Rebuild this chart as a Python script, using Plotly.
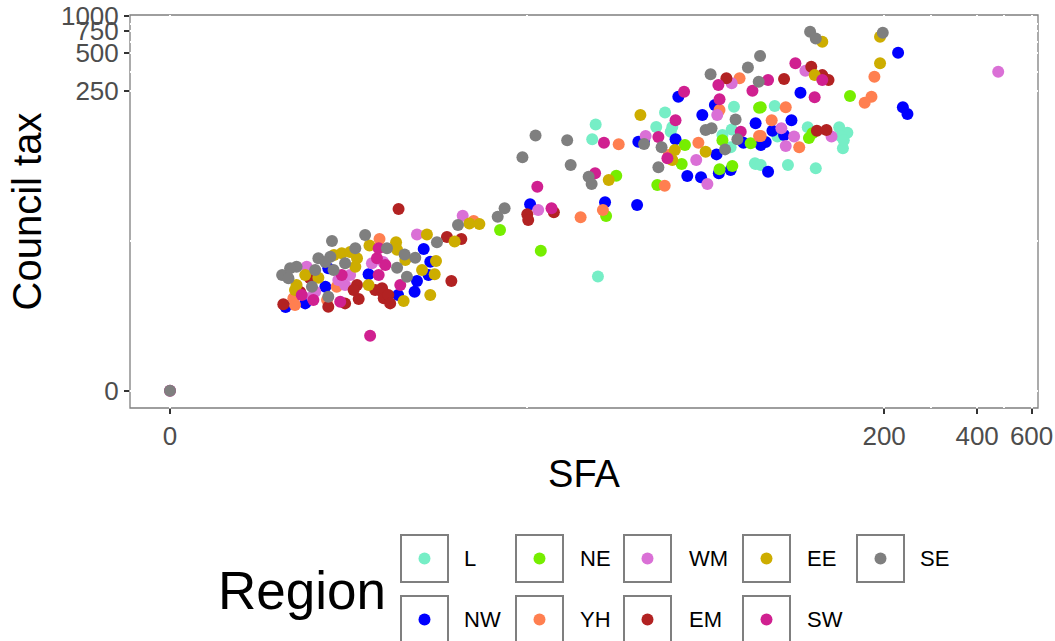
import numpy as np
import plotly.graph_objects as go

# ---- data: SFA and council tax (GBP m) by authority, grouped by region ----
sfa_L = [22.6, 22.0, 23.0, 64.9, 38.5, 40.7, 36.0, 63.8, 59.5, 40.2, 63.3, 76.0, 88.2, 113, 90.0,
         143, 152, 145, 147, 76.4, 79.4, 97.4, 120, 148]
ctax_L = [134, 102, 7.2, 186, 167, 128, 128, 122, 110, 117, 87.6, 65, 189, 127, 107,
          127, 115, 107, 86, 64.1, 62.9, 62.9, 59.2, 100]

sfa_NW = [2.24, 3.37, 2.17, 1.73, 1.36, 5.58, 5.91, 5.82, 5.26, 5.15, 4.44, 13.5, 24.3, 31.1, 31.4,
          42.6, 56.2, 76.4, 51.1, 32.8, 41.7, 69.7, 56.9, 57.9, 63.3, 45.6, 50.6, 107, 100, 86.7,
          94.6, 79.4, 82.4, 83.9, 222, 230, 238]
ctax_NW = [8.54, 7.54, 5.79, 4.00, 3.67, 12.6, 9.77, 7.43, 6.55, 5.19, 4.83, 30.0, 31.2, 29.6, 97.2,
           224, 192, 137, 160, 100, 102, 95.4, 76.8, 53.9, 57.3, 51.2, 50.0, 241, 145, 119,
           110, 91.4, 96.6, 55.5, 505, 184, 163]

sfa_NE = [26.5, 24.5, 10.6, 14.7, 78.4, 44.8, 59.5, 73.6, 43.7, 58.2, 64.1, 36.3, 155, 79.4, 114, 117]
ctax_NE = [51.5, 24.0, 18.3, 12.2, 183, 91.4, 100, 94.3, 64.1, 58.1, 61.8, 43.2, 227, 184, 104, 114]

sfa_YH = [3.74, 2.45, 1.50, 2.21, 1.53, 8.54, 27.0, 23.9, 20.1, 67.7, 58.2, 78.4, 49.6, 39.6, 38.4,
          95.8, 86.2, 79.4, 106, 186, 182, 173]
ctax_YH = [15.4, 5.79, 4.49, 4.32, 3.85, 21.8, 92.6, 26.9, 23.4, 315, 175, 108, 95.4, 75.8, 42.7,
           184, 145, 108, 87.6, 324, 224, 200]

sfa_WM = [3.48, 1.76, 2.81, 2.49, 2.67, 1.94, 1.87, 7.79, 5.26, 3.87, 14.4, 63.8, 57.2, 33.2, 48.8,
          53.1, 111, 92.7, 102, 135, 95.8, 468]
ctax_WM = [9.45, 8.82, 7.43, 6.69, 6.01, 5.19, 4.65, 24.1, 16.8, 9.71, 26.9, 287, 160, 108, 69.1,
           44.0, 362, 125, 107, 107, 89.7, 355]

sfa_EM = [1.83, 3.01, 3.59, 3.83, 2.91, 3.89, 2.67, 3.06, 2.24, 1.32, 1.63, 4.46, 6.82, 7.70, 7.08,
          3.83, 4.06, 4.13, 16.3, 13.2, 13.3, 61.3, 116, 126, 132, 94.6, 121, 130]
ctax_EM = [6.93, 6.01, 5.39, 5.19, 5.39, 4.49, 4.00, 4.42, 3.70, 3.91, 5.16, 27.4, 16.0, 15.4, 6.55,
           5.60, 4.83, 4.00, 25.8, 24.8, 22.2, 315, 390, 334, 305, 311, 119, 121]

sfa_EE = [3.40, 2.58, 2.81, 2.38, 3.01, 2.96, 1.73, 2.01, 1.56, 3.37, 1.53, 8.24, 5.74, 7.28, 4.36,
          4.74, 4.40, 6.21, 5.50, 6.14, 5.91, 4.67, 31.9, 25.0, 8.95, 52.4, 41.5, 40.7, 126, 119,
          194, 194]
ctax_EE = [13.5, 11.6, 11.9, 11.2, 10.5, 8.82, 7.43, 7.02, 6.01, 6.01, 5.39, 20.8, 16.8, 14.6, 14.4,
           10.1, 12.4, 9.91, 8.24, 7.54, 4.83, 4.22, 160, 47.5, 20.6, 80.6, 83.3, 69.1, 618, 334,
           678, 415]

sfa_SW = [3.65, 3.71, 2.58, 1.66, 1.90, 2.54, 3.42, 3.71, 3.95, 4.53, 24.1, 22.5, 14.3, 16.0, 57.7,
          74.6, 44.5, 58.2, 41.7, 68.3, 36.6, 39.2, 103, 126, 83.9, 119, 0]
ctax_SW = [10.5, 7.43, 7.43, 4.83, 4.32, 4.15, 1.75, 12.8, 9.13, 6.01, 95.4, 53.9, 41.9, 27.8, 278,
           250, 246, 214, 145, 117, 106, 71.3, 415, 305, 305, 222, 0]

sfa_SE = [3.26, 2.33, 2.96, 2.29, 2.01, 2.67, 1.56, 1.44, 1.94, 2.37, 1.30, 1.41, 1.87, 2.24, 2.17,
          7.49, 6.26, 4.01, 4.71, 5.18, 4.40, 4.81, 14.1, 18.1, 12.7, 18.6, 21.4, 21.9, 11.0, 10.4,
          72.1, 54.4, 78.2, 65.7, 54.8, 52.4, 32.8, 66.6, 60.7, 37.5, 36.6, 115, 120, 79.0, 198, 0]
ctax_SE = [16.6, 14.8, 12.8, 10.8, 10.5, 9.45, 8.82, 8.54, 8.24, 8.24, 7.43, 6.93, 5.79, 4.65, 9.71,
           20.2, 14.4, 12.8, 11.3, 10.6, 8.64, 7.17, 109, 100, 72.7, 62.9, 50.5, 44.0, 27.8, 23.7,
           385, 339, 295, 147, 125, 121, 93.1, 102, 84.3, 87.6, 60.3, 744, 658, 475, 731, 0]

regions = ["L", "NW", "NE", "YH", "WM", "EM", "EE", "SW", "SE"]
region_data = {
    "L": (sfa_L, ctax_L), "NW": (sfa_NW, ctax_NW), "NE": (sfa_NE, ctax_NE),
    "YH": (sfa_YH, ctax_YH), "WM": (sfa_WM, ctax_WM), "EM": (sfa_EM, ctax_EM),
    "EE": (sfa_EE, ctax_EE), "SW": (sfa_SW, ctax_SW), "SE": (sfa_SE, ctax_SE),
}
region_colors = {
    "L": "#76EEC6", "NW": "#0000FF", "NE": "#76EE00", "YH": "#FF7F50", "WM": "#DA70D6",
    "EM": "#B22222", "EE": "#CDAD00", "SW": "#D02090", "SE": "#7F7F7F",
}

x_ticks = [0, 200, 400, 600]
y_ticks = [0, 250, 500, 750, 1000]

FONT = "Liberation Sans, Arial, Helvetica, sans-serif"
W, H = 1055, 641
ML, MR, MT, MB = 130, 17, 15, 233
PW, PH = W - ML - MR, H - MT - MB


def to_paper_x(p):
    return (p - ML) / PW


def to_paper_y(p):
    return (MT + PH - p) / PH


fig = go.Figure()

# log(1 + v) scale on both axes: plot v + 1 on log axes
for r in regions:
    sfa, ctax = region_data[r]
    fig.add_trace(go.Scatter(
        x=np.asarray(sfa, float) + 1, y=np.asarray(ctax, float) + 1,
        mode="markers", name=r, showlegend=False,
        customdata=np.column_stack([sfa, ctax]),
        hovertemplate=r + "<br>SFA %{customdata[0]}<br>Council tax %{customdata[1]}<extra></extra>",
        marker=dict(size=12, color=region_colors[r], line=dict(width=0)),
    ))


def minor_between(vals):
    v = np.asarray(vals, float) + 1
    return list(np.sqrt(v[:-1] * v[1:]))


fig.update_xaxes(
    type="log", range=[-0.129, 2.7995],
    tickvals=[v + 1 for v in x_ticks], ticktext=[str(v) for v in x_ticks],
    ticks="outside", ticklen=5, tickwidth=1.5, tickcolor="#333333",
    tickfont=dict(family=FONT, size=26, color="#4D4D4D"),
    showgrid=True, gridcolor="white", gridwidth=2,
    minor=dict(tickvals=minor_between(x_ticks), showgrid=True, gridcolor="white",
               gridwidth=1.5, ticks=""),
    showline=False, zeroline=False,
    title=dict(text="SFA", font=dict(family=FONT, size=38, color="black"), standoff=10),
)
fig.update_yaxes(
    type="log", range=[-0.138, 3.006],
    tickvals=[v + 1 for v in y_ticks], ticktext=[str(v) for v in y_ticks],
    ticks="outside", ticklen=5, tickwidth=1.5, tickcolor="#333333",
    tickfont=dict(family=FONT, size=26, color="#4D4D4D"),
    showgrid=True, gridcolor="white", gridwidth=2,
    minor=dict(tickvals=minor_between(y_ticks), showgrid=True, gridcolor="white",
               gridwidth=1.5, ticks=""),
    showline=False, zeroline=False,
    title=dict(text="Council tax", font=dict(family=FONT, size=40, color="black"), standoff=6),
)

# panel border (beneath the white grid lines)
fig.add_shape(type="rect", xref="x domain", yref="y domain", x0=0, x1=1, y0=0, y1=1,
              line=dict(color="#7F7F7F", width=1.3), layer="below")

# ---- region key, two rows filled column by column ----
box_left = [401, 516, 624, 743, 857]
label_left = [462, 578, 687, 805, 918]
row_top = [535, 596]
box = 47
dot = 12
for i, r in enumerate(regions):
    col, row = i // 2, i % 2
    x0, y0 = box_left[col], row_top[row]
    fig.add_shape(type="rect", xref="paper", yref="paper",
                  x0=to_paper_x(x0), x1=to_paper_x(x0 + box),
                  y0=to_paper_y(y0 + box), y1=to_paper_y(y0),
                  line=dict(color="#7F7F7F", width=2), fillcolor="white", layer="above")
    cx, cy = x0 + box / 2, y0 + box / 2
    fig.add_shape(type="circle", xref="paper", yref="paper",
                  x0=to_paper_x(cx - dot / 2), x1=to_paper_x(cx + dot / 2),
                  y0=to_paper_y(cy + dot / 2), y1=to_paper_y(cy - dot / 2),
                  line=dict(width=0), fillcolor=region_colors[r], layer="above")
    fig.add_annotation(text=r, xref="paper", yref="paper", x=to_paper_x(label_left[col]),
                       y=to_paper_y(cy), xanchor="left", yanchor="middle", showarrow=False,
                       font=dict(family=FONT, size=22, color="black"))

fig.add_annotation(text="Region", xref="paper", yref="paper", x=to_paper_x(216),
                   y=to_paper_y(590), xanchor="left", yanchor="middle", showarrow=False,
                   font=dict(family=FONT, size=53, color="black"))

fig.update_layout(
    width=W, height=H,
    margin=dict(l=ML, r=MR, t=MT, b=MB, autoexpand=False),
    paper_bgcolor="white", plot_bgcolor="white",
    font=dict(family=FONT),
    showlegend=False,
)

fig.write_html("out.html")
